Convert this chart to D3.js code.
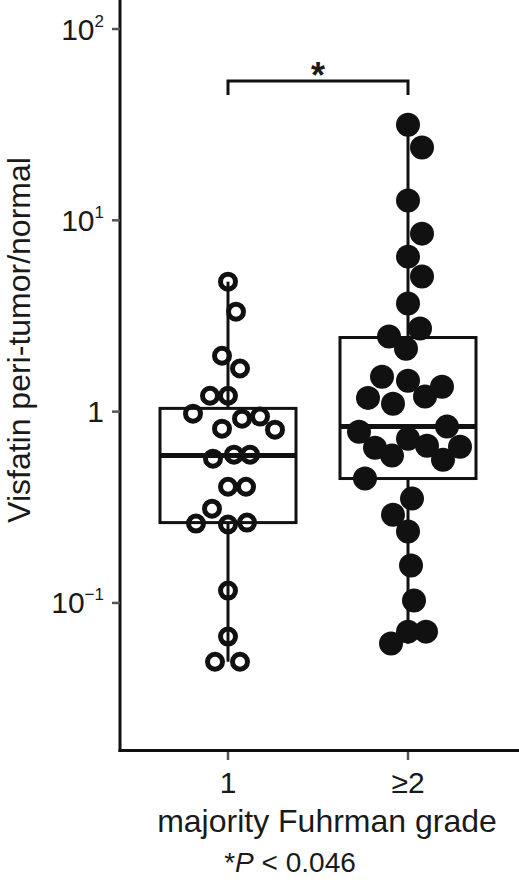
<!DOCTYPE html>
<html><head><meta charset="utf-8">
<script src="https://cdn.jsdelivr.net/npm/d3@7"></script>
<style>body{margin:0;background:#fff}svg{display:block}text{font-family:"Liberation Sans",Arial,sans-serif;fill:#1a1a1a}</style>
</head><body>
<script>
const categories = ["1", "≥2"];
const yTicks = [100, 10, 1, 0.1];
const yTickLabels = [["10", "2"], ["10", "1"], ["1", ""], ["10", "\u22121"]];
// group 1 (open circles)
const grade1Values = [4.78, 3.33, 1.96, 1.68, 1.21, 1.21, 0.976, 0.919, 0.942, 0.815, 0.805, 0.568, 0.596, 0.596, 0.405, 0.405, 0.311, 0.26, 0.257, 0.263, 0.116, 0.0667, 0.0493, 0.0493];
const grade1Jitter = [0, 8, -6, 12, -18, 0, -35, 14, 32, -6, 47, -15, 6, 22, 0, 18, -16, -32, 0, 19, 0, 0, -13, 12];
// group 2 (filled circles)
const grade2Values = [31.6, 24.0, 12.7, 8.52, 6.46, 5.08, 3.67, 2.72, 2.47, 2.13, 1.52, 1.45, 1.35, 1.20, 1.18, 1.10, 0.835, 0.786, 0.722, 0.664, 0.656, 0.648, 0.589, 0.561, 0.447, 0.351, 0.289, 0.236, 0.157, 0.103, 0.0708, 0.0708, 0.0613];
const grade2Jitter = [0, 14, 0, 14, 0, 14, 0, 12, -19, -2, -26, 0, 34, 17, -40, -15, 39, -49, 0, 19, 52, -33, -16, 35, -43, 4, -15, 0, 3, 6, 0, 18, -17];
// box stats: [whiskerLow, q1, median, q3, whiskerHigh]
const grade1Box = [0.0493, 0.263, 0.589, 1.04, 4.78];
const grade2Box = [0.0613, 0.447, 0.835, 2.44, 31.6];
const yLabel = "Visfatin peri-tumor/normal";
const xLabel = "majority Fuhrman grade";

const W = 519, H = 882;
const svg = d3.select("body").append("svg").attr("width", W).attr("height", H);
const y = d3.scaleLog().domain([0.01683, 141.8]).range([751, 0]);
const x = d3.scalePoint().domain(categories).range([228, 408]);
const ink = "#111";

// axes lines
svg.append("line").attr("x1", 120).attr("x2", 120).attr("y1", 0).attr("y2", 752).attr("stroke", ink).attr("stroke-width", 3);
svg.append("line").attr("x1", 118.5).attr("x2", W).attr("y1", 750.5).attr("y2", 750.5).attr("stroke", ink).attr("stroke-width", 3);

// y ticks
const yAxis = svg.append("g");
yTicks.forEach((t, i) => {
  const yy = y(t);
  yAxis.append("line").attr("x1", 112).attr("x2", 120).attr("y1", yy).attr("y2", yy).attr("stroke", "#555").attr("stroke-width", 2.5);
  const txt = yAxis.append("text").attr("x", 104).attr("y", yy + 10.5).attr("text-anchor", "end").attr("font-size", 30);
  txt.append("tspan").text(yTickLabels[i][0]);
  if (yTickLabels[i][1]) txt.append("tspan").attr("dy", -13).attr("font-size", 17).text(yTickLabels[i][1]);
});

// x ticks
categories.forEach(c => {
  svg.append("line").attr("x1", x(c)).attr("x2", x(c)).attr("y1", 752).attr("y2", 760).attr("stroke", "#555").attr("stroke-width", 2.5);
  svg.append("text").attr("x", x(c)).attr("y", 793).attr("text-anchor", "middle").attr("font-size", 30).text(c);
});
svg.append("text").attr("x", 327).attr("y", 832).attr("text-anchor", "middle").attr("font-size", 32).text(xLabel);
const p = svg.append("text").attr("x", 290).attr("y", 872).attr("text-anchor", "middle").attr("font-size", 28);
p.append("tspan").text("*");
p.append("tspan").attr("font-style", "italic").text("P");
p.append("tspan").text(" < 0.046");

svg.append("text").attr("transform", "translate(30,340) rotate(-90)").attr("text-anchor", "middle").attr("font-size", 32).text(yLabel);

// boxes
const boxW = 136;
function drawBox(cat, s) {
  const cx = x(cat);
  const g = svg.append("g");
  g.append("line").attr("x1", cx).attr("x2", cx).attr("y1", y(s[4])).attr("y2", y(s[3])).attr("stroke", ink).attr("stroke-width", 3);
  g.append("line").attr("x1", cx).attr("x2", cx).attr("y1", y(s[1])).attr("y2", y(s[0])).attr("stroke", ink).attr("stroke-width", 3);
  g.append("rect").attr("x", cx - boxW / 2).attr("y", y(s[3])).attr("width", boxW).attr("height", y(s[1]) - y(s[3]))
    .attr("fill", "none").attr("stroke", ink).attr("stroke-width", 3);
  g.append("line").attr("x1", cx - boxW / 2).attr("x2", cx + boxW / 2).attr("y1", y(s[2])).attr("y2", y(s[2])).attr("stroke", ink).attr("stroke-width", 5);
}
drawBox(categories[0], grade1Box);
drawBox(categories[1], grade2Box);

// points
svg.append("g").selectAll("circle").data(grade1Values).join("circle")
  .attr("cx", (d, i) => x(categories[0]) + grade1Jitter[i]).attr("cy", d => y(d)).attr("r", 7.5)
  .attr("fill", "none").attr("stroke", ink).attr("stroke-width", 5);
svg.append("g").selectAll("circle").data(grade2Values).join("circle")
  .attr("cx", (d, i) => x(categories[1]) + grade2Jitter[i]).attr("cy", d => y(d)).attr("r", 12)
  .attr("fill", ink);

// significance bracket
const by = 81;
svg.append("path").attr("d", `M${x(categories[0])},95V${by}H${x(categories[1])}V95`).attr("fill", "none").attr("stroke", ink).attr("stroke-width", 3);
svg.append("text").attr("x", (x(categories[0]) + x(categories[1])) / 2).attr("y", 88).attr("text-anchor", "middle").attr("font-size", 36).attr("font-weight", "bold").text("*");
</script>
</body></html>
